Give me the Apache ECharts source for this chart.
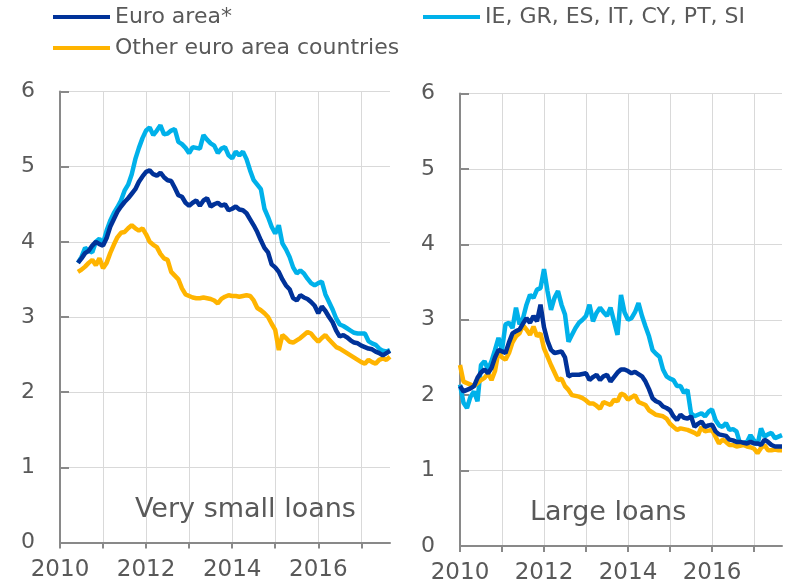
<!DOCTYPE html>
<html>
<head>
<meta charset="utf-8">
<title>Interest rates on loans</title>
<script src="https://cdn.jsdelivr.net/npm/echarts@6/dist/echarts.min.js"></script>
<style>
    html, body { margin: 0; padding: 0; background: #fff; }
    #chart { width: 798px; height: 585px; }
</style>
</head>
<body>
<div id="chart"></div>
<script>
// series names (legend)
var names = ['Euro area*', 'IE, GR, ES, IT, CY, PT, SI', 'Other euro area countries'];
var colors = ['#003299', '#00b1ea', '#ffb400'];

// monthly, very small loans start in June 2010
var smallStart = 5;
var smallEuro = [3.72, 3.78, 3.85, 3.88, 3.95, 4.00, 3.97, 3.95, 4.05, 4.20, 4.30, 4.40, 4.47, 4.53, 4.58, 4.64, 4.70, 4.80, 4.87, 4.93,
    4.95, 4.90, 4.88, 4.92, 4.86, 4.82, 4.81, 4.72, 4.62, 4.60, 4.52, 4.48, 4.52, 4.55, 4.48, 4.55, 4.58, 4.47, 4.50, 4.52,
    4.48, 4.50, 4.42, 4.44, 4.47, 4.43, 4.42, 4.38, 4.30, 4.22, 4.13, 4.02, 3.92, 3.86, 3.70, 3.66, 3.60, 3.50, 3.42, 3.37,
    3.25, 3.22, 3.29, 3.26, 3.24, 3.20, 3.15, 3.05, 3.14, 3.08, 3.00, 2.93, 2.82, 2.74, 2.76, 2.73, 2.69, 2.66, 2.65, 2.62,
    2.60, 2.58, 2.57, 2.54, 2.52, 2.49, 2.52, 2.55];
var smallStressed = [3.72, 3.80, 3.92, 3.88, 3.86, 4.00, 4.04, 3.98, 4.15, 4.28, 4.38, 4.46, 4.55, 4.68, 4.76, 4.90, 5.10, 5.25, 5.38, 5.48,
    5.52, 5.42, 5.48, 5.55, 5.43, 5.44, 5.48, 5.50, 5.33, 5.30, 5.25, 5.18, 5.26, 5.25, 5.24, 5.42, 5.36, 5.31, 5.28, 5.18,
    5.24, 5.26, 5.15, 5.11, 5.20, 5.15, 5.20, 5.10, 4.95, 4.82, 4.76, 4.70, 4.44, 4.33, 4.20, 4.11, 4.22, 3.98, 3.90, 3.80,
    3.66, 3.58, 3.62, 3.58, 3.51, 3.45, 3.42, 3.45, 3.47, 3.30, 3.20, 3.10, 2.98, 2.90, 2.88, 2.85, 2.82, 2.79, 2.78, 2.78,
    2.78, 2.68, 2.65, 2.63, 2.58, 2.55, 2.54, 2.56];
var smallOther = [3.60, 3.63, 3.67, 3.72, 3.76, 3.69, 3.78, 3.65, 3.72, 3.85, 3.96, 4.06, 4.12, 4.13, 4.18, 4.22, 4.18, 4.15, 4.18, 4.10,
    4.00, 3.96, 3.93, 3.84, 3.78, 3.76, 3.60, 3.55, 3.50, 3.38, 3.30, 3.28, 3.26, 3.25, 3.25, 3.26, 3.25, 3.24, 3.22, 3.18,
    3.24, 3.27, 3.29, 3.28, 3.28, 3.27, 3.28, 3.29, 3.28, 3.22, 3.12, 3.09, 3.05, 3.00, 2.91, 2.83, 2.56, 2.76, 2.72, 2.67,
    2.66, 2.69, 2.72, 2.76, 2.80, 2.78, 2.72, 2.67, 2.72, 2.76, 2.70, 2.65, 2.60, 2.58, 2.55, 2.52, 2.49, 2.46, 2.43, 2.40,
    2.38, 2.43, 2.40, 2.38, 2.43, 2.45, 2.43, 2.47];

// monthly, large loans start in January 2010
var largeEuro = [2.12, 2.05, 2.07, 2.09, 2.12, 2.23, 2.30, 2.34, 2.29, 2.36, 2.50, 2.60, 2.58, 2.56, 2.70, 2.82, 2.85, 2.87, 2.95, 3.02,
    2.96, 3.05, 2.98, 3.20, 2.90, 2.72, 2.60, 2.56, 2.57, 2.58, 2.50, 2.25, 2.27, 2.27, 2.27, 2.28, 2.29, 2.20, 2.24, 2.27,
    2.20, 2.25, 2.27, 2.18, 2.24, 2.30, 2.34, 2.34, 2.32, 2.29, 2.31, 2.28, 2.25, 2.18, 2.08, 1.96, 1.92, 1.90, 1.85, 1.83,
    1.80, 1.72, 1.67, 1.74, 1.70, 1.69, 1.72, 1.58, 1.62, 1.65, 1.58, 1.60, 1.61, 1.52, 1.48, 1.47, 1.46, 1.41, 1.40, 1.38,
    1.38, 1.37, 1.36, 1.38, 1.36, 1.36, 1.34, 1.41, 1.38, 1.34, 1.32, 1.32, 1.32];
var largeStressed = [2.14, 1.90, 1.83, 1.98, 2.05, 1.92, 2.40, 2.45, 2.34, 2.45, 2.60, 2.76, 2.60, 2.94, 2.96, 2.89, 3.16, 2.94, 3.02, 3.20,
    3.33, 3.29, 3.40, 3.42, 3.67, 3.38, 3.13, 3.29, 3.38, 3.20, 3.07, 2.71, 2.80, 2.89, 2.96, 3.00, 3.05, 3.20, 2.98, 3.09,
    3.16, 3.10, 3.05, 3.16, 2.98, 2.80, 3.33, 3.10, 3.00, 3.02, 3.10, 3.22, 3.05, 2.91, 2.78, 2.60, 2.55, 2.51, 2.34, 2.25,
    2.22, 2.20, 2.12, 2.12, 2.03, 2.07, 1.76, 1.72, 1.74, 1.76, 1.72, 1.78, 1.81, 1.67, 1.60, 1.58, 1.63, 1.54, 1.55, 1.52,
    1.36, 1.37, 1.38, 1.47, 1.40, 1.34, 1.56, 1.45, 1.48, 1.50, 1.43, 1.45, 1.47];
var largeOther = [2.40, 2.18, 2.16, 2.14, 2.12, 2.16, 2.20, 2.23, 2.29, 2.20, 2.32, 2.58, 2.50, 2.47, 2.56, 2.70, 2.78, 2.82, 2.93, 2.87,
    2.80, 2.91, 2.78, 2.82, 2.62, 2.51, 2.40, 2.30, 2.20, 2.22, 2.12, 2.07, 2.00, 1.99, 1.98, 1.96, 1.93, 1.89, 1.89, 1.86,
    1.82, 1.91, 1.89, 1.87, 1.94, 1.92, 2.02, 2.00, 1.94, 1.97, 2.00, 1.91, 1.89, 1.87, 1.80, 1.77, 1.74, 1.73, 1.72, 1.69,
    1.62, 1.58, 1.54, 1.56, 1.55, 1.54, 1.52, 1.50, 1.47, 1.58, 1.52, 1.53, 1.54, 1.45, 1.36, 1.41, 1.38, 1.34, 1.34, 1.32,
    1.33, 1.34, 1.32, 1.31, 1.29, 1.23, 1.30, 1.34, 1.27, 1.27, 1.28, 1.27, 1.27];

var firstYear = 2010;
var monthCount = 93;   // Jan 2010 .. Sep 2017
var panelTitles = ['Very small loans', 'Large loans'];

var font = 'DejaVu Sans';
var textColor = '#595959';
var axisColor = '#898989';
var gridColor = '#d9d9d9';

/** month categories, e.g. 2010-01 */
function buildMonths() {
    var months = [];
    for (var i = 0; i < monthCount; i++) {
        var y = firstYear + Math.floor(i / 12);
        var m = i % 12 + 1;
        months.push(y + '-' + (m < 10 ? '0' + m : m));
    }
    return months;
}

/** pad a series that starts later than January 2010 */
function padStart(values, offset) {
    var out = [];
    for (var i = 0; i < offset; i++) {
        out.push(null);
    }
    return out.concat(values);
}

function xAxisFor(gridIndex, months) {
    return {
        type: 'category',
        gridIndex: gridIndex,
        data: months,
        boundaryGap: false,
        axisLine: { show: true, lineStyle: { color: axisColor, width: 2 } },
        axisTick: {
            show: true,
            length: 6,
            interval: 11,   // one tick per year
            lineStyle: { color: axisColor, width: 2 }
        },
        splitLine: {
            show: true,
            interval: 11,
            lineStyle: { color: gridColor, width: 1 }
        },
        axisLabel: {
            show: true,
            interval: 23,   // every other year
            formatter: function (value) { return value.substring(0, 4); },
            color: textColor,
            fontFamily: font,
            fontSize: 23,
            margin: 16
        }
    };
}

function yAxisFor(gridIndex) {
    return {
        type: 'value',
        gridIndex: gridIndex,
        min: 0,
        max: 6,
        interval: 1,
        axisLine: { show: true, lineStyle: { color: axisColor, width: 2 } },
        axisTick: { show: true, inside: true, length: 9, lineStyle: { color: axisColor, width: 2 } },
        splitLine: { show: true, lineStyle: { color: gridColor, width: 1 } },
        axisLabel: { show: true, color: textColor, fontFamily: font, fontSize: 22, margin: 25 }
    };
}

function lineSeries(name, color, gridIndex, data) {
    return {
        name: name,
        type: 'line',
        xAxisIndex: gridIndex,
        yAxisIndex: gridIndex,
        data: data,
        showSymbol: false,
        symbol: 'none',
        lineStyle: { color: color, width: 4.5 },
        itemStyle: { color: color },
        z: 3
    };
}

function legendFor(name, left, top) {
    return {
        data: [name],
        left: left,
        top: top,
        padding: 0,
        icon: 'rect',
        itemWidth: 57,
        itemHeight: 4,
        selectedMode: false,
        textStyle: { color: textColor, fontFamily: font, fontSize: 22 }
    };
}

function drawChart() {
    var months = buildMonths();
    var myChart = echarts.init(document.getElementById('chart'));
    var option = {
        animation: false,
        legend: [
            legendFor(names[0], 53, 6),
            legendFor(names[1], 423, 6),
            legendFor(names[2], 53, 37)
        ],
        grid: [
            { left: 60, right: 408, top: 91.5, bottom: 42.5 },
            { left: 460, right: 16, top: 93.5, bottom: 39 }
        ],
        xAxis: [xAxisFor(0, months), xAxisFor(1, months)],
        yAxis: [yAxisFor(0), yAxisFor(1)],
        series: [
            lineSeries(names[1], colors[1], 0, padStart(smallStressed, smallStart)),
            lineSeries(names[2], colors[2], 0, padStart(smallOther, smallStart)),
            lineSeries(names[0], colors[0], 0, padStart(smallEuro, smallStart)),
            lineSeries(names[1], colors[1], 1, largeStressed),
            lineSeries(names[2], colors[2], 1, largeOther),
            lineSeries(names[0], colors[0], 1, largeEuro)
        ],
        graphic: [
            {
                type: 'text', left: 135, top: 496, z: 10,
                style: { text: panelTitles[0], fill: textColor, font: '27px "DejaVu Sans"' }
            },
            {
                type: 'text', left: 530, top: 499, z: 10,
                style: { text: panelTitles[1], fill: textColor, font: '27px "DejaVu Sans"' }
            }
        ]
    };
    myChart.setOption(option);
}

drawChart();
</script>
</body>
</html>
